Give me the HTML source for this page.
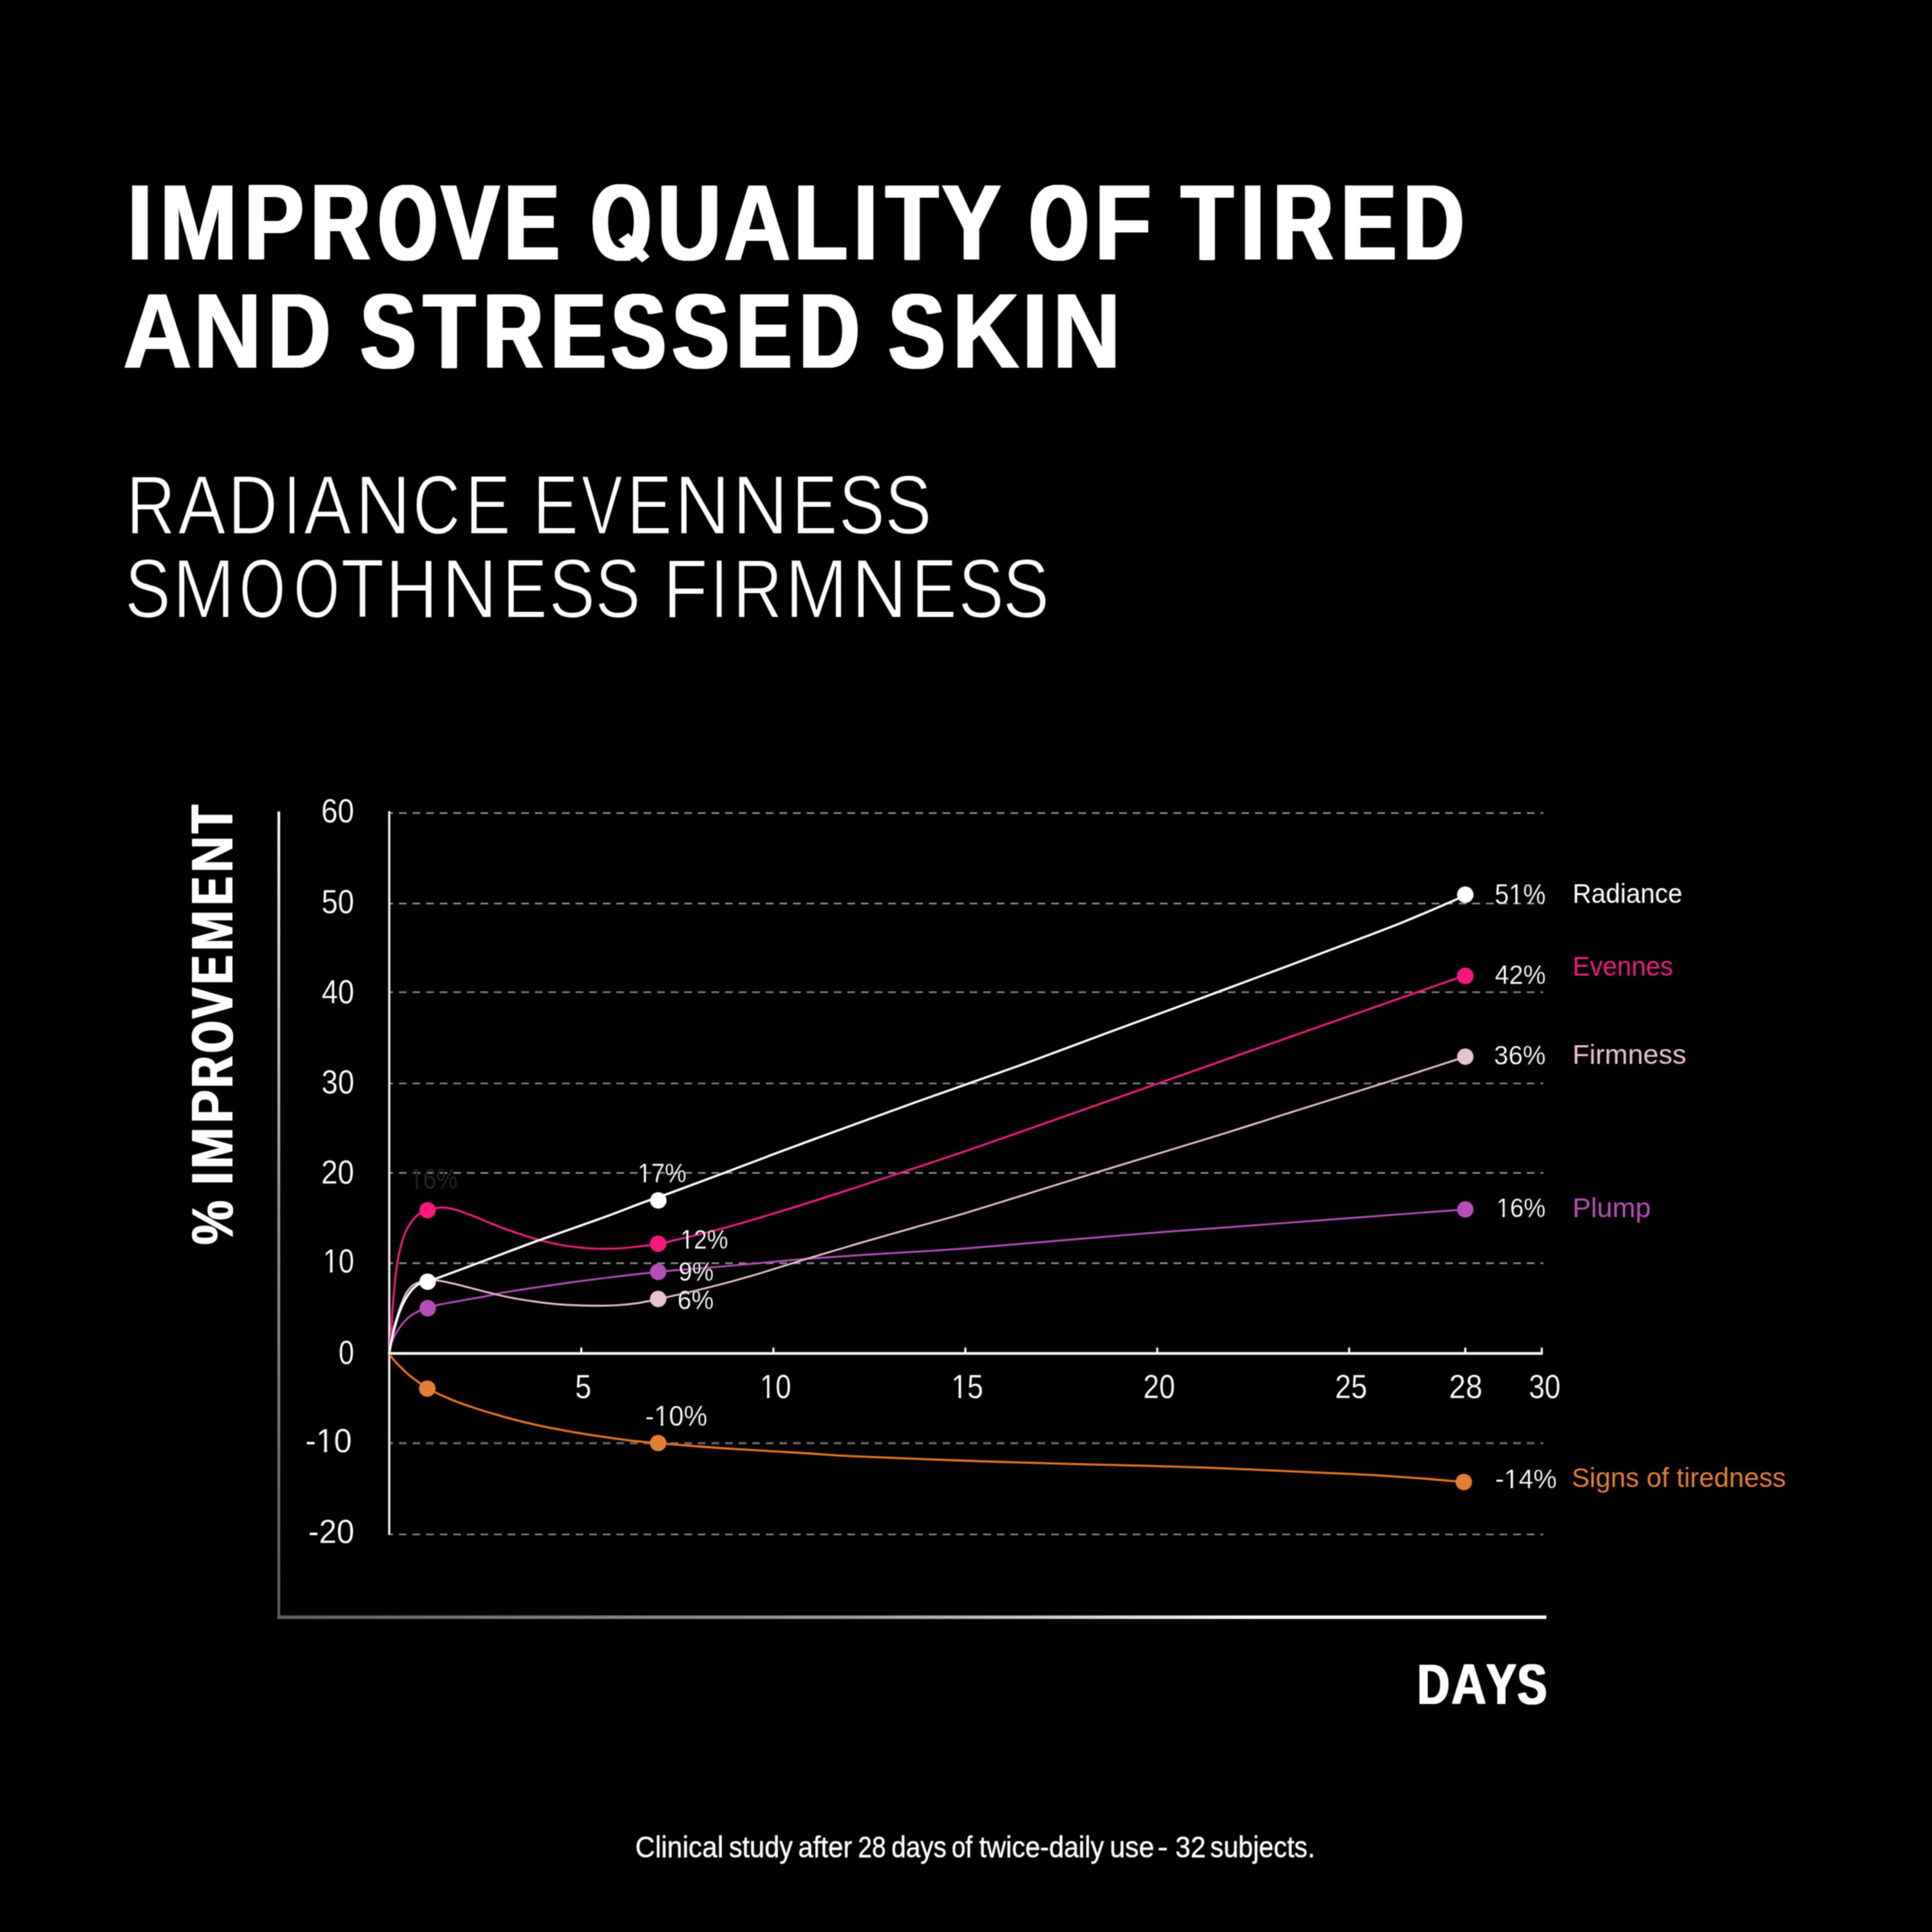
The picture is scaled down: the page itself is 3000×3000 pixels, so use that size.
<!DOCTYPE html>
<html lang="en">
<head>
<meta charset="utf-8">
<title>Improve quality of tired and stressed skin</title>
<style>
html,body{margin:0;padding:0;background:#000;}
body{width:3000px;height:3000px;overflow:hidden;}
svg{display:block;position:absolute;left:0;top:0;}
text{font-family:"Liberation Sans",sans-serif;white-space:pre;}
</style>
</head>
<body>
<svg width="3000" height="3000" viewBox="0 0 3000 3000">
<defs><filter id="soft" filterUnits="userSpaceOnUse" x="0" y="0" width="3000" height="3000" color-interpolation-filters="sRGB"><feConvolveMatrix order="3" kernelMatrix="1 2 1 2 4 2 1 2 1" divisor="16" edgeMode="none" preserveAlpha="false"/></filter>
<clipPath id="qclip"><rect x="900" y="250" width="130" height="154.7"/></clipPath><clipPath id="k0"><path clip-rule="evenodd" d="M-20,-61.2H76.7V20.4H-20ZM2.55,-5.10H12.67V2.55H2.55ZM17.48,-5.10H27.03V2.55H17.48Z"/></clipPath><clipPath id="k1"><path clip-rule="evenodd" d="M-20,-61.2H93.7V20.4H-20ZM19.53,-5.10H29.66V2.55H19.53ZM34.47,-5.10H44.02V2.55H34.47Z"/></clipPath><clipPath id="k2"><path clip-rule="evenodd" d="M-20,-61.2H76.7V20.4H-20ZM2.55,-5.10H12.67V2.55H2.55ZM17.48,-5.10H27.03V2.55H17.48Z"/></clipPath><clipPath id="k3"><path clip-rule="evenodd" d="M-20,-61.2H76.7V20.4H-20ZM2.55,-5.10H12.67V2.55H2.55ZM17.48,-5.10H27.03V2.55H17.48Z"/></clipPath><clipPath id="k4"><path clip-rule="evenodd" d="M-20,-52.4H107.5V17.5H-20ZM2.18,-4.37H10.86V2.18H2.18ZM14.98,-4.37H23.16V2.18H14.98Z"/></clipPath><clipPath id="k5"><path clip-rule="evenodd" d="M-20,-52.1H106.9V17.4H-20ZM2.17,-4.34H10.79V2.17H2.17ZM14.88,-4.34H23.01V2.17H14.88Z"/></clipPath><clipPath id="k6"><path clip-rule="evenodd" d="M-20,-52.1H106.9V17.4H-20ZM2.17,-4.34H10.79V2.17H2.17ZM14.88,-4.34H23.01V2.17H14.88Z"/></clipPath><clipPath id="k7"><path clip-rule="evenodd" d="M-20,-52.8H122.7V17.6H-20ZM16.85,-4.40H25.58V2.20H16.85ZM29.72,-4.40H37.96V2.20H29.72Z"/></clipPath><clipPath id="k8"><path clip-rule="evenodd" d="M-20,-52.4H107.5V17.5H-20ZM26.49,-4.37H35.16V2.18H26.49ZM39.28,-4.37H47.46V2.18H39.28Z"/></clipPath><clipPath id="k9"><path clip-rule="evenodd" d="M-20,-51.2H105.4V17.1H-20ZM2.13,-4.27H10.61V2.13H2.13ZM14.64,-4.27H22.63V2.13H14.64Z"/></clipPath><clipPath id="k10"><path clip-rule="evenodd" d="M-20,-51.4H120.0V17.1H-20ZM16.41,-4.28H24.91V2.14H16.41ZM28.95,-4.28H36.97V2.14H28.95Z"/></clipPath></defs>
<rect width="3000" height="3000" fill="#000"/>
<g filter="url(#soft)">
<defs><linearGradient id="gv" gradientUnits="userSpaceOnUse" x1="0" y1="1260" x2="0" y2="2511"><stop offset="0" stop-color="#f4f4f4"/><stop offset="0.5" stop-color="#949494"/><stop offset="1" stop-color="#5c5c5c"/></linearGradient><linearGradient id="gh" gradientUnits="userSpaceOnUse" x1="432" y1="0" x2="2401" y2="0"><stop offset="0" stop-color="#606060"/><stop offset="0.45" stop-color="#9a9a9a"/><stop offset="0.78" stop-color="#fff"/><stop offset="1" stop-color="#fff"/></linearGradient></defs>
<rect x="430.8" y="1260" width="4.3" height="1253.5" fill="url(#gv)"/>
<rect x="430.8" y="2508.5" width="1970.4" height="5.4" fill="url(#gh)"/>
<line x1="598.4" y1="1262.5" x2="2396.5" y2="1262.5" stroke="#949494" stroke-width="2.4" stroke-dasharray="11.9 9.2"/>
<line x1="598.4" y1="1403" x2="2396.5" y2="1403" stroke="#949494" stroke-width="2.4" stroke-dasharray="11.9 9.2"/>
<line x1="598.4" y1="1540.6" x2="2396.5" y2="1540.6" stroke="#949494" stroke-width="2.4" stroke-dasharray="11.9 9.2"/>
<line x1="598.4" y1="1682.4" x2="2396.5" y2="1682.4" stroke="#949494" stroke-width="2.4" stroke-dasharray="11.9 9.2"/>
<line x1="598.4" y1="1821.3" x2="2396.5" y2="1821.3" stroke="#949494" stroke-width="2.4" stroke-dasharray="11.9 9.2"/>
<line x1="598.4" y1="1961.5" x2="2396.5" y2="1961.5" stroke="#949494" stroke-width="2.4" stroke-dasharray="11.9 9.2"/>
<line x1="598.4" y1="2241" x2="2396.5" y2="2241" stroke="#666" stroke-width="3.3" stroke-dasharray="11.9 9.2"/>
<line x1="598.4" y1="2382.6" x2="2396.5" y2="2382.6" stroke="#949494" stroke-width="2.4" stroke-dasharray="11.9 9.2"/>
<rect x="590" y="1250" width="13" height="1150" fill="#000"/>
<rect x="602.7" y="1259.5" width="3.4" height="1123.5" fill="#f2f2f2"/>
<rect x="602.7" y="2099.5" width="1792.8999999999999" height="4.2" fill="#fff"/>
<rect x="901.0" y="2092.5" width="3.2" height="9" fill="#fff"/>
<rect x="1199.4" y="2092.5" width="3.2" height="9" fill="#fff"/>
<rect x="1497.4" y="2092.5" width="3.2" height="9" fill="#fff"/>
<rect x="1795.4" y="2092.5" width="3.2" height="9" fill="#fff"/>
<rect x="2093.4" y="2092.5" width="3.2" height="9" fill="#fff"/>
<rect x="2273.7" y="2092.5" width="3.2" height="9" fill="#fff"/>
<rect x="2392.4" y="2092.5" width="3.2" height="9" fill="#fff"/>
<g id="headings">
<g font-size="167.15" font-weight="700" fill="#fff"><text transform="translate(193.94,403.00) scale(1.0026,1)">I</text><text transform="translate(246.08,403.00) scale(0.8721,1)">M</text><text transform="translate(247.63,403.00) scale(0.8721,1)">M</text><text transform="translate(249.19,403.00) scale(0.8721,1)">M</text><text transform="translate(376.76,403.00) scale(0.8371,1)">P</text><text transform="translate(378.75,403.00) scale(0.8371,1)">P</text><text transform="translate(380.73,403.00) scale(0.8371,1)">P</text><text transform="translate(479.91,403.00) scale(0.7608,1)">R</text><text transform="translate(481.85,403.00) scale(0.7608,1)">R</text><text transform="translate(483.78,403.00) scale(0.7608,1)">R</text><text transform="translate(485.72,403.00) scale(0.7608,1)">R</text><text transform="translate(584.81,403.00) scale(0.6846,1)">O</text><text transform="translate(586.73,403.00) scale(0.6846,1)">O</text><text transform="translate(588.64,403.00) scale(0.6846,1)">O</text><text transform="translate(590.56,403.00) scale(0.6846,1)">O</text><text transform="translate(592.48,403.00) scale(0.6846,1)">O</text><text transform="translate(682.48,403.00) scale(0.8158,1)">V</text><text transform="translate(684.72,403.00) scale(0.8158,1)">V</text><text transform="translate(686.96,403.00) scale(0.8158,1)">V</text><text transform="translate(780.59,403.00) scale(0.7624,1)">E</text><text transform="translate(782.51,403.00) scale(0.7624,1)">E</text><text transform="translate(784.44,403.00) scale(0.7624,1)">E</text><text transform="translate(786.37,403.00) scale(0.7624,1)">E</text><g clip-path="url(#qclip)"><text transform="translate(915.20,403.00) scale(0.7009,1)">Q</text><text transform="translate(917.62,403.00) scale(0.7009,1)">Q</text><text transform="translate(920.05,403.00) scale(0.7009,1)">Q</text><text transform="translate(922.47,403.00) scale(0.7009,1)">Q</text></g><text transform="translate(1018.67,403.00) scale(0.8201,1)">U</text><text transform="translate(1020.86,403.00) scale(0.8201,1)">U</text><text transform="translate(1023.05,403.00) scale(0.8201,1)">U</text><text transform="translate(1122.25,403.00) scale(0.8599,1)">A</text><text transform="translate(1123.95,403.00) scale(0.8599,1)">A</text><text transform="translate(1125.66,403.00) scale(0.8599,1)">A</text><text transform="translate(1230.48,403.00) scale(0.8173,1)">L</text><text transform="translate(1232.70,403.00) scale(0.8173,1)">L</text><text transform="translate(1234.93,403.00) scale(0.8173,1)">L</text><text transform="translate(1321.57,403.00) scale(0.9820,1)">I</text><text transform="translate(1372.93,403.00) scale(0.7992,1)">T</text><text transform="translate(1375.37,403.00) scale(0.7992,1)">T</text><text transform="translate(1377.81,403.00) scale(0.7992,1)">T</text><text transform="translate(1460.04,403.00) scale(0.8301,1)">Y</text><text transform="translate(1462.11,403.00) scale(0.8301,1)">Y</text><text transform="translate(1464.17,403.00) scale(0.8301,1)">Y</text><text transform="translate(1595.79,403.00) scale(0.6868,1)">O</text><text transform="translate(1597.70,403.00) scale(0.6868,1)">O</text><text transform="translate(1599.60,403.00) scale(0.6868,1)">O</text><text transform="translate(1601.51,403.00) scale(0.6868,1)">O</text><text transform="translate(1603.41,403.00) scale(0.6868,1)">O</text><text transform="translate(1697.66,403.00) scale(0.8736,1)">F</text><text transform="translate(1699.20,403.00) scale(0.8736,1)">F</text><text transform="translate(1700.74,403.00) scale(0.8736,1)">F</text><text transform="translate(1831.44,403.00) scale(0.7925,1)">T</text><text transform="translate(1833.13,403.00) scale(0.7925,1)">T</text><text transform="translate(1834.81,403.00) scale(0.7925,1)">T</text><text transform="translate(1836.49,403.00) scale(0.7925,1)">T</text><text transform="translate(1921.88,403.00) scale(0.9985,1)">I</text><text transform="translate(1974.40,403.00) scale(0.7706,1)">R</text><text transform="translate(1976.26,403.00) scale(0.7706,1)">R</text><text transform="translate(1978.12,403.00) scale(0.7706,1)">R</text><text transform="translate(1979.98,403.00) scale(0.7706,1)">R</text><text transform="translate(2079.99,403.00) scale(0.7624,1)">E</text><text transform="translate(2081.91,403.00) scale(0.7624,1)">E</text><text transform="translate(2083.84,403.00) scale(0.7624,1)">E</text><text transform="translate(2085.77,403.00) scale(0.7624,1)">E</text><text transform="translate(2176.71,403.00) scale(0.7783,1)">D</text><text transform="translate(2178.51,403.00) scale(0.7783,1)">D</text><text transform="translate(2180.31,403.00) scale(0.7783,1)">D</text><text transform="translate(2182.11,403.00) scale(0.7783,1)">D</text></g>
<polygon points="975.5,361.7 1008.8,398.6 996.9,407.6 960,372.4" fill="#fff"/>
<g font-size="165.84" font-weight="700" fill="#fff"><text transform="translate(189.53,570.50) scale(0.8964,1)">A</text><text transform="translate(190.78,570.50) scale(0.8964,1)">A</text><text transform="translate(192.03,570.50) scale(0.8964,1)">A</text><text transform="translate(298.90,570.50) scale(0.8860,1)">N</text><text transform="translate(300.28,570.50) scale(0.8860,1)">N</text><text transform="translate(301.65,570.50) scale(0.8860,1)">N</text><text transform="translate(414.08,570.50) scale(0.8062,1)">D</text><text transform="translate(416.41,570.50) scale(0.8062,1)">D</text><text transform="translate(418.75,570.50) scale(0.8062,1)">D</text><text transform="translate(556.89,570.50) scale(0.7784,1)">S</text><text transform="translate(558.67,570.50) scale(0.7784,1)">S</text><text transform="translate(560.45,570.50) scale(0.7784,1)">S</text><text transform="translate(562.23,570.50) scale(0.7784,1)">S</text><text transform="translate(654.95,570.50) scale(0.7932,1)">T</text><text transform="translate(657.45,570.50) scale(0.7932,1)">T</text><text transform="translate(659.94,570.50) scale(0.7932,1)">T</text><text transform="translate(747.95,570.50) scale(0.7716,1)">R</text><text transform="translate(749.79,570.50) scale(0.7716,1)">R</text><text transform="translate(751.63,570.50) scale(0.7716,1)">R</text><text transform="translate(753.46,570.50) scale(0.7716,1)">R</text><text transform="translate(852.76,570.50) scale(0.7712,1)">E</text><text transform="translate(854.60,570.50) scale(0.7712,1)">E</text><text transform="translate(856.44,570.50) scale(0.7712,1)">E</text><text transform="translate(858.28,570.50) scale(0.7712,1)">E</text><text transform="translate(946.24,570.50) scale(0.7664,1)">S</text><text transform="translate(948.12,570.50) scale(0.7664,1)">S</text><text transform="translate(950.00,570.50) scale(0.7664,1)">S</text><text transform="translate(951.88,570.50) scale(0.7664,1)">S</text><text transform="translate(1041.08,570.50) scale(0.8009,1)">S</text><text transform="translate(1043.48,570.50) scale(0.8009,1)">S</text><text transform="translate(1045.88,570.50) scale(0.8009,1)">S</text><text transform="translate(1141.06,570.50) scale(0.7712,1)">E</text><text transform="translate(1142.90,570.50) scale(0.7712,1)">E</text><text transform="translate(1144.74,570.50) scale(0.7712,1)">E</text><text transform="translate(1146.58,570.50) scale(0.7712,1)">E</text><text transform="translate(1238.56,570.50) scale(0.7805,1)">D</text><text transform="translate(1240.32,570.50) scale(0.7805,1)">D</text><text transform="translate(1242.09,570.50) scale(0.7805,1)">D</text><text transform="translate(1243.85,570.50) scale(0.7805,1)">D</text><text transform="translate(1376.90,570.50) scale(0.7969,1)">S</text><text transform="translate(1379.35,570.50) scale(0.7969,1)">S</text><text transform="translate(1381.80,570.50) scale(0.7969,1)">S</text><text transform="translate(1477.19,570.50) scale(0.8689,1)">K</text><text transform="translate(1478.77,570.50) scale(0.8689,1)">K</text><text transform="translate(1480.35,570.50) scale(0.8689,1)">K</text><text transform="translate(1584.17,570.50) scale(0.9897,1)">I</text><text transform="translate(1632.90,570.50) scale(0.8860,1)">N</text><text transform="translate(1634.28,570.50) scale(0.8860,1)">N</text><text transform="translate(1635.65,570.50) scale(0.8860,1)">N</text></g>
<g font-size="130.09" font-weight="400" fill="#fff" stroke="#000" stroke-width="2.00" stroke-linejoin="round"><text transform="translate(196.26,828.90) scale(0.8101,1)">R</text><text transform="translate(276.28,828.90) scale(0.8545,1)">A</text><text transform="translate(353.95,828.90) scale(0.8206,1)">D</text><text transform="translate(440.59,828.90) scale(0.7115,1)">I</text><text transform="translate(471.78,828.90) scale(0.8499,1)">A</text><text transform="translate(551.60,828.90) scale(0.9186,1)">N</text><text transform="translate(641.10,828.90) scale(0.7845,1)">C</text><text transform="translate(722.46,828.90) scale(0.8098,1)">E</text><text transform="translate(827.30,828.90) scale(0.8154,1)">E</text><text transform="translate(903.12,828.90) scale(0.7337,1)">V</text><text transform="translate(973.39,828.90) scale(0.8069,1)">E</text><text transform="translate(1047.19,828.90) scale(0.9200,1)">N</text><text transform="translate(1137.36,828.90) scale(0.9227,1)">N</text><text transform="translate(1229.39,828.90) scale(0.8168,1)">E</text><text transform="translate(1302.16,828.90) scale(0.8273,1)">S</text><text transform="translate(1374.09,828.90) scale(0.8380,1)">S</text></g>
<g font-size="129.94" font-weight="400" fill="#fff" stroke="#000" stroke-width="2.00" stroke-linejoin="round"><text transform="translate(193.91,958.90) scale(0.8189,1)">S</text><text transform="translate(267.98,958.90) scale(0.8938,1)">M</text><text transform="translate(371.46,958.90) scale(0.7110,1)">O</text><text transform="translate(455.99,958.90) scale(0.7053,1)">O</text><text transform="translate(529.17,958.90) scale(0.8484,1)">T</text><text transform="translate(598.46,958.90) scale(0.8673,1)">H</text><text transform="translate(685.76,958.90) scale(0.9238,1)">N</text><text transform="translate(780.25,958.90) scale(0.8022,1)">E</text><text transform="translate(852.26,958.90) scale(0.8283,1)">S</text><text transform="translate(924.35,958.90) scale(0.8123,1)">S</text><text transform="translate(1029.46,958.90) scale(0.8766,1)">F</text><text transform="translate(1103.59,958.90) scale(0.7368,1)">I</text><text transform="translate(1137.95,958.90) scale(0.8214,1)">R</text><text transform="translate(1219.10,958.90) scale(0.9007,1)">M</text><text transform="translate(1321.96,958.90) scale(0.9238,1)">N</text><text transform="translate(1415.13,958.90) scale(0.8135,1)">E</text><text transform="translate(1488.14,958.90) scale(0.8136,1)">S</text><text transform="translate(1557.35,958.90) scale(0.8296,1)">S</text></g>
<g font-size="90.99" font-weight="700" fill="#fff" transform="translate(361,1932) rotate(-90)"><text transform="translate(-1.86,0.00) scale(0.8536,1)">%</text><text transform="translate(0.07,0.00) scale(0.8536,1)">%</text><text transform="translate(90.08,0.00) scale(0.9853,1)">I</text><text transform="translate(116.00,0.00) scale(0.8500,1)">M</text><text transform="translate(117.98,0.00) scale(0.8500,1)">M</text><text transform="translate(186.75,0.00) scale(0.8568,1)">P</text><text transform="translate(188.65,0.00) scale(0.8568,1)">P</text><text transform="translate(241.82,0.00) scale(0.7296,1)">R</text><text transform="translate(243.61,0.00) scale(0.7296,1)">R</text><text transform="translate(245.40,0.00) scale(0.7296,1)">R</text><text transform="translate(295.88,0.00) scale(0.6752,1)">O</text><text transform="translate(298.03,0.00) scale(0.6752,1)">O</text><text transform="translate(300.18,0.00) scale(0.6752,1)">O</text><text transform="translate(349.58,0.00) scale(0.7671,1)">V</text><text transform="translate(351.12,0.00) scale(0.7671,1)">V</text><text transform="translate(352.66,0.00) scale(0.7671,1)">V</text><text transform="translate(402.48,0.00) scale(0.7194,1)">E</text><text transform="translate(404.34,0.00) scale(0.7194,1)">E</text><text transform="translate(406.20,0.00) scale(0.7194,1)">E</text><text transform="translate(453.94,0.00) scale(0.8421,1)">M</text><text transform="translate(456.03,0.00) scale(0.8421,1)">M</text><text transform="translate(525.51,0.00) scale(0.6982,1)">E</text><text transform="translate(527.50,0.00) scale(0.6982,1)">E</text><text transform="translate(529.50,0.00) scale(0.6982,1)">E</text><text transform="translate(576.07,0.00) scale(0.8713,1)">N</text><text transform="translate(577.77,0.00) scale(0.8713,1)">N</text><text transform="translate(637.01,0.00) scale(0.7853,1)">T</text><text transform="translate(638.44,0.00) scale(0.7853,1)">T</text><text transform="translate(639.86,0.00) scale(0.7853,1)">T</text></g>
<g font-size="89.83" font-weight="700" fill="#fff"><text transform="translate(2199.56,2646.00) scale(0.7666,1)">D</text><text transform="translate(2201.08,2646.00) scale(0.7666,1)">D</text><text transform="translate(2202.61,2646.00) scale(0.7666,1)">D</text><text transform="translate(2252.39,2646.00) scale(0.8401,1)">A</text><text transform="translate(2254.48,2646.00) scale(0.8401,1)">A</text><text transform="translate(2306.51,2646.00) scale(0.7824,1)">Y</text><text transform="translate(2307.93,2646.00) scale(0.7824,1)">Y</text><text transform="translate(2309.35,2646.00) scale(0.7824,1)">Y</text><text transform="translate(2354.80,2646.00) scale(0.7552,1)">S</text><text transform="translate(2356.40,2646.00) scale(0.7552,1)">S</text><text transform="translate(2358.00,2646.00) scale(0.7552,1)">S</text></g>
<text transform="translate(498.69,1277.00) scale(0.9057,1)" font-size="51.00" font-weight="400" fill="#fff" stroke="#000" stroke-width="0.30" stroke-linejoin="round">60</text>
<text transform="translate(499.17,1417.50) scale(0.8969,1)" font-size="51.00" font-weight="400" fill="#fff" stroke="#000" stroke-width="0.30" stroke-linejoin="round">50</text>
<text transform="translate(499.50,1558.00) scale(0.8909,1)" font-size="51.00" font-weight="400" fill="#fff" stroke="#000" stroke-width="0.30" stroke-linejoin="round">40</text>
<text transform="translate(499.27,1698.00) scale(0.8952,1)" font-size="51.00" font-weight="400" fill="#fff" stroke="#000" stroke-width="0.30" stroke-linejoin="round">30</text>
<text transform="translate(498.69,1838.00) scale(0.9057,1)" font-size="51.00" font-weight="400" fill="#fff" stroke="#000" stroke-width="0.30" stroke-linejoin="round">20</text>
<text transform="translate(501.49,1975.50) scale(0.8546,1)" font-size="51.00" font-weight="400" fill="#fff" stroke="#000" stroke-width="0.30" stroke-linejoin="round" clip-path="url(#k0)">10</text>
<text transform="translate(525.81,2118.00) scale(0.8514,1)" font-size="51.00" font-weight="400" fill="#fff" stroke="#000" stroke-width="0.30" stroke-linejoin="round">0</text>
<text transform="translate(474.00,2254.50) scale(0.9825,1)" font-size="51.00" font-weight="400" fill="#fff" stroke="#000" stroke-width="0.30" stroke-linejoin="round" clip-path="url(#k1)">-10</text>
<text transform="translate(478.72,2395.50) scale(0.9695,1)" font-size="51.00" font-weight="400" fill="#fff" stroke="#000" stroke-width="0.30" stroke-linejoin="round">-20</text>
<text transform="translate(892.88,2170.90) scale(0.8916,1)" font-size="51.00" font-weight="400" fill="#fff" stroke="#000" stroke-width="0.30" stroke-linejoin="round">5</text>
<text transform="translate(1179.99,2170.90) scale(0.8546,1)" font-size="51.00" font-weight="400" fill="#fff" stroke="#000" stroke-width="0.30" stroke-linejoin="round" clip-path="url(#k2)">10</text>
<text transform="translate(1477.21,2170.90) scale(0.8749,1)" font-size="51.00" font-weight="400" fill="#fff" stroke="#000" stroke-width="0.30" stroke-linejoin="round" clip-path="url(#k3)">15</text>
<text transform="translate(1775.28,2170.90) scale(0.8712,1)" font-size="51.00" font-weight="400" fill="#fff" stroke="#000" stroke-width="0.30" stroke-linejoin="round">20</text>
<text transform="translate(2073.05,2170.90) scale(0.8814,1)" font-size="51.00" font-weight="400" fill="#fff" stroke="#000" stroke-width="0.30" stroke-linejoin="round">25</text>
<text transform="translate(2249.96,2170.90) scale(0.9178,1)" font-size="51.00" font-weight="400" fill="#fff" stroke="#000" stroke-width="0.30" stroke-linejoin="round">28</text>
<text transform="translate(2373.92,2170.90) scale(0.8687,1)" font-size="51.00" font-weight="400" fill="#fff" stroke="#000" stroke-width="0.30" stroke-linejoin="round">30</text>
</g>
<g id="lines">
<path d="M604.6,2101.7 C605.0,2102.4 605.3,2103.8 607.1,2106.2 C608.9,2108.6 612.8,2113.3 615.6,2116.4 C618.5,2119.5 621.1,2122.0 624.2,2125.0 C627.3,2128.0 631.0,2131.5 634.4,2134.4 C637.8,2137.3 641.3,2139.9 644.7,2142.4 C648.1,2144.9 651.8,2147.4 654.9,2149.7 C658.0,2152.0 659.1,2153.7 663.5,2156.2 C667.9,2158.7 674.2,2161.4 681.0,2164.5 C687.8,2167.6 695.2,2171.0 704.2,2174.6 C713.2,2178.2 724.9,2182.3 735.3,2185.8 C745.6,2189.3 755.9,2192.4 766.3,2195.4 C776.6,2198.4 787.0,2201.4 797.4,2204.1 C807.8,2206.8 818.0,2209.3 828.4,2211.6 C838.8,2213.9 849.1,2216.1 859.5,2218.1 C869.9,2220.1 880.2,2222.0 890.6,2223.8 C901.0,2225.6 911.2,2227.2 921.6,2228.8 C932.0,2230.4 942.4,2231.9 952.7,2233.3 C963.1,2234.7 972.2,2236.1 983.7,2237.3 C995.2,2238.6 1006.5,2239.5 1022.0,2240.8 C1037.5,2242.2 1057.4,2243.9 1076.9,2245.4 C1096.4,2246.9 1110.2,2248.0 1139.0,2249.8 C1167.8,2251.7 1218.4,2254.6 1250.0,2256.5 C1281.6,2258.4 1285.8,2259.3 1328.6,2261.3 C1371.4,2263.3 1447.6,2266.4 1507.1,2268.5 C1566.6,2270.6 1626.2,2272.1 1685.7,2273.8 C1745.2,2275.5 1804.8,2276.5 1864.3,2278.6 C1923.8,2280.7 1993.3,2284.0 2042.9,2286.3 C2092.5,2288.6 2123.6,2289.8 2161.9,2292.3 C2200.2,2294.8 2254.5,2299.7 2273.0,2301.2" fill="none" stroke="#e8741f" stroke-width="3.3" stroke-linecap="round" stroke-linejoin="round"/>
<path d="M604.6,2101.7 C605.0,2099.6 605.8,2093.5 607.1,2089.1 C608.4,2084.7 610.2,2079.8 612.2,2075.5 C614.2,2071.2 616.4,2067.3 619.0,2063.5 C621.6,2059.7 624.5,2055.8 627.6,2052.4 C630.7,2049.0 634.1,2045.7 637.8,2043.0 C641.5,2040.3 645.4,2038.1 649.8,2036.2 C654.2,2034.3 659.4,2033.0 664.2,2031.4 C669.0,2029.8 671.2,2028.3 678.8,2026.5 C686.4,2024.7 698.8,2022.8 709.6,2020.8 C720.4,2018.8 733.8,2016.6 743.7,2014.8 C753.7,2013.0 761.6,2011.2 769.3,2009.7 C777.0,2008.2 768.2,2009.0 790.0,2005.6 C811.8,2002.2 861.3,1994.6 900.0,1989.5 C938.7,1984.4 984.8,1978.8 1022.0,1975.0 C1059.2,1971.2 1092.7,1969.1 1123.5,1966.4 C1154.3,1963.7 1184.5,1960.8 1207.0,1958.8 C1229.5,1956.8 1238.2,1955.9 1258.8,1954.3 C1279.4,1952.7 1303.7,1951.0 1330.6,1949.3 C1357.5,1947.5 1391.8,1945.6 1420.0,1943.8 C1448.2,1942.0 1453.3,1942.2 1500.0,1938.5 C1546.7,1934.8 1650.0,1926.0 1700.0,1921.8 C1750.0,1917.6 1766.7,1916.1 1800.0,1913.5 C1833.3,1910.9 1820.8,1912.1 1900.0,1906.2 C1979.2,1900.3 2212.8,1882.7 2275.3,1878.0" fill="none" stroke="#b44fb6" stroke-width="2.9" stroke-linecap="round" stroke-linejoin="round"/>
<path d="M604.6,2101.7 C604.9,2098.9 605.6,2090.9 606.6,2085.0 C607.6,2079.1 608.9,2072.7 610.5,2066.0 C612.1,2059.3 614.3,2052.0 616.5,2045.0 C618.7,2038.0 621.1,2030.2 623.5,2024.0 C625.9,2017.8 628.2,2012.2 631.0,2007.5 C633.8,2002.8 637.3,1998.7 640.5,1996.0 C643.7,1993.3 646.1,1992.4 650.0,1991.3 C653.9,1990.2 659.2,1989.9 664.0,1989.4 C668.8,1988.9 671.2,1987.4 678.8,1988.2 C686.4,1989.0 698.8,1992.0 709.6,1994.5 C720.4,1997.0 733.8,2000.9 743.7,2003.4 C753.7,2005.9 761.6,2007.8 769.3,2009.6 C777.0,2011.4 779.9,2012.4 790.0,2014.3 C800.1,2016.2 816.7,2019.1 830.0,2021.0 C843.3,2022.9 854.7,2024.4 870.0,2025.5 C885.3,2026.6 906.8,2027.3 921.8,2027.5 C936.8,2027.7 948.6,2027.3 960.0,2026.6 C971.4,2025.9 979.5,2025.1 990.0,2023.5 C1000.5,2021.9 1008.4,2020.2 1023.0,2017.0 C1037.6,2013.8 1059.9,2008.8 1077.6,2004.6 C1095.3,2000.4 1112.1,1996.2 1129.4,1991.6 C1146.7,1987.0 1164.0,1982.0 1181.2,1976.9 C1198.5,1971.8 1220.0,1964.8 1232.9,1960.8 C1245.8,1956.8 1242.5,1957.8 1258.8,1952.9 C1275.1,1948.0 1303.7,1939.3 1330.6,1931.5 C1357.5,1923.7 1391.8,1914.0 1420.0,1906.0 C1448.2,1898.0 1470.0,1892.2 1500.0,1883.3 C1530.0,1874.4 1566.7,1862.7 1600.0,1852.4 C1633.3,1842.1 1650.0,1836.7 1700.0,1821.3 C1750.0,1805.9 1850.0,1775.8 1900.0,1760.3 C1950.0,1744.8 1960.0,1741.2 2000.0,1728.6 C2040.0,1716.0 2094.1,1699.2 2140.0,1684.6 C2185.9,1670.0 2252.8,1648.3 2275.3,1641.0" fill="none" stroke="#e9c3cb" stroke-width="2.9" stroke-linecap="round" stroke-linejoin="round"/>
<path d="M604.6,2101.7 C605.0,2096.8 606.1,2085.5 607.1,2072.0 C608.1,2058.5 609.1,2037.9 610.5,2020.8 C611.9,2003.7 613.9,1982.7 615.6,1969.6 C617.3,1956.5 618.7,1950.8 620.7,1942.2 C622.7,1933.7 625.0,1925.1 627.6,1918.3 C630.2,1911.5 633.0,1906.2 636.1,1901.2 C639.2,1896.2 643.3,1891.5 646.4,1888.4 C649.5,1885.3 652.0,1884.0 654.9,1882.5 C657.8,1881.0 660.0,1880.3 664.0,1879.2 C668.0,1878.1 674.0,1876.5 678.8,1875.8 C683.5,1875.1 687.4,1874.8 692.5,1875.3 C697.6,1875.8 703.9,1877.4 709.6,1879.0 C715.3,1880.6 720.9,1882.9 726.6,1885.0 C732.3,1887.1 738.0,1889.5 743.7,1891.8 C749.4,1894.1 753.5,1896.0 760.8,1899.0 C768.1,1902.0 778.6,1906.2 787.7,1909.5 C796.8,1912.8 807.7,1916.3 815.6,1918.9 C823.5,1921.5 825.7,1922.6 835.0,1925.0 C844.3,1927.4 860.8,1931.2 871.5,1933.2 C882.2,1935.2 890.2,1936.1 899.5,1937.1 C908.8,1938.1 918.1,1938.7 927.4,1939.0 C936.7,1939.3 946.1,1939.1 955.4,1938.7 C964.7,1938.3 972.2,1937.7 983.3,1936.5 C994.4,1935.3 1013.5,1932.6 1022.0,1931.3 C1030.5,1930.0 1017.6,1933.0 1034.5,1928.9 C1051.4,1924.9 1091.4,1915.7 1123.5,1907.0 C1155.6,1898.3 1192.5,1887.1 1227.0,1876.5 C1261.5,1865.9 1298.4,1853.9 1330.6,1843.5 C1362.8,1833.1 1391.8,1823.4 1420.0,1814.0 C1448.2,1804.6 1470.0,1797.5 1500.0,1787.2 C1530.0,1776.9 1516.7,1781.5 1600.0,1752.2 C1683.3,1722.9 1910.0,1643.0 2000.0,1611.3 C2090.0,1579.6 2094.1,1578.1 2140.0,1562.0 C2185.9,1545.9 2252.8,1522.5 2275.3,1514.6" fill="none" stroke="#ec1d7d" stroke-width="3.2" stroke-linecap="round" stroke-linejoin="round"/>
<path d="M604.6,2101.7 C605.0,2099.0 605.8,2092.1 607.1,2085.7 C608.4,2079.3 610.2,2070.9 612.2,2063.5 C614.2,2056.1 616.7,2047.8 619.0,2041.3 C621.3,2034.8 623.3,2029.5 625.9,2024.2 C628.5,2018.9 631.6,2013.8 634.4,2009.7 C637.2,2005.6 640.0,2002.1 642.9,1999.4 C645.8,1996.7 648.0,1995.0 651.5,1993.5 C655.0,1992.0 661.9,1990.8 664.0,1990.2 L664.0,1990.2 C678.3,1984.9 721.5,1969.0 750.0,1958.4 C778.5,1947.8 805.6,1937.2 835.2,1926.5 C864.8,1915.8 899.6,1904.1 927.4,1894.0 C955.2,1883.9 982.9,1873.0 1002.0,1866.0 C1021.1,1859.0 1021.8,1859.4 1042.0,1852.0 C1062.2,1844.6 1092.7,1833.2 1123.5,1821.6 C1154.3,1810.0 1192.5,1795.4 1227.0,1782.6 C1261.5,1769.8 1298.4,1756.3 1330.6,1744.6 C1362.8,1732.9 1391.2,1722.5 1420.0,1712.2 C1448.8,1701.9 1473.5,1693.2 1503.5,1682.6 C1533.5,1672.0 1565.5,1661.0 1600.0,1648.4 C1634.5,1635.8 1668.9,1622.7 1710.6,1607.2 C1752.3,1591.7 1801.8,1573.5 1850.0,1555.6 C1898.2,1537.7 1960.0,1514.9 2000.0,1499.9 C2040.0,1484.9 2060.0,1477.2 2090.0,1465.8 C2120.0,1454.4 2149.1,1443.8 2180.0,1431.3 C2210.9,1418.8 2259.4,1397.4 2275.3,1390.6" fill="none" stroke="#fff" stroke-width="3.5" stroke-linecap="round" stroke-linejoin="round"/>
</g>
<g id="dots">
<circle cx="663.5" cy="2156.2" r="12.8" fill="#e57f35"/>
<circle cx="1022.0" cy="2240.8" r="12.8" fill="#e57f35"/>
<circle cx="2273.0" cy="2301.2" r="12.8" fill="#e57f35"/>
<circle cx="664.2" cy="2031.4" r="12.8" fill="#b44fb6"/>
<circle cx="1022.0" cy="1975.0" r="12.8" fill="#b44fb6"/>
<circle cx="2275.3" cy="1878.0" r="12.8" fill="#b44fb6"/>
<circle cx="1022.0" cy="2017.0" r="12.8" fill="#e9c3cb"/>
<circle cx="2275.3" cy="1640.7" r="12.8" fill="#e9c3cb"/>
<circle cx="664.0" cy="1879.2" r="12.8" fill="#fa187f"/>
<circle cx="1022.0" cy="1931.2" r="12.8" fill="#fa187f"/>
<circle cx="2275.3" cy="1515.4" r="12.8" fill="#fa187f"/>
<circle cx="664.0" cy="1990.2" r="12.8" fill="#fff"/>
<circle cx="1022.2" cy="1864.0" r="12.8" fill="#fff"/>
<circle cx="2275.3" cy="1389.3" r="12.8" fill="#fff"/>
</g>
<g id="labels">
<text transform="translate(636.17,1845.50) scale(0.8524,1)" font-size="43.70" font-weight="400" fill="#262626" stroke="#000" stroke-width="0.30" stroke-linejoin="round" clip-path="url(#k4)">16%</text>
<text transform="translate(990.13,1836.00) scale(0.8703,1)" font-size="43.41" font-weight="400" fill="#fff" stroke="#000" stroke-width="0.30" stroke-linejoin="round" clip-path="url(#k5)">17%</text>
<text transform="translate(1056.59,1939.00) scale(0.8532,1)" font-size="43.41" font-weight="400" fill="#fff" stroke="#000" stroke-width="0.30" stroke-linejoin="round" clip-path="url(#k6)">12%</text>
<text transform="translate(1053.76,1988.50) scale(0.8785,1)" font-size="42.98" font-weight="400" fill="#fff" stroke="#000" stroke-width="0.30" stroke-linejoin="round">9%</text>
<text transform="translate(1052.05,2033.20) scale(0.9128,1)" font-size="42.69" font-weight="400" fill="#fff" stroke="#000" stroke-width="0.30" stroke-linejoin="round">6%</text>
<text transform="translate(1002.08,2214.00) scale(0.9387,1)" font-size="43.98" font-weight="400" fill="#fff" stroke="#000" stroke-width="0.30" stroke-linejoin="round" clip-path="url(#k7)">-10%</text>
<text transform="translate(2321.01,1403.80) scale(0.9078,1)" font-size="43.70" font-weight="400" fill="#fff" stroke="#000" stroke-width="0.30" stroke-linejoin="round" clip-path="url(#k8)">51%</text>
<text transform="translate(2321.13,1528.00) scale(0.9309,1)" font-size="42.55" font-weight="400" fill="#fff" stroke="#000" stroke-width="0.30" stroke-linejoin="round">42%</text>
<text transform="translate(2319.87,1653.00) scale(0.9333,1)" font-size="43.12" font-weight="400" fill="#fff" stroke="#000" stroke-width="0.30" stroke-linejoin="round">36%</text>
<text transform="translate(2323.49,1890.40) scale(0.8973,1)" font-size="42.69" font-weight="400" fill="#fff" stroke="#000" stroke-width="0.30" stroke-linejoin="round" clip-path="url(#k9)">16%</text>
<text transform="translate(2321.69,2311.30) scale(0.9597,1)" font-size="42.84" font-weight="400" fill="#fff" stroke="#000" stroke-width="0.30" stroke-linejoin="round" clip-path="url(#k10)">-14%</text>
<text transform="translate(2441.89,1402.40) scale(0.9322,1)" font-size="43.31" font-weight="400" fill="#fff">Radiance</text>
<text transform="translate(2441.91,1515.00) scale(0.9426,1)" font-size="42.59" font-weight="400" fill="#ec1d7d">Evennes</text>
<text transform="translate(2441.67,1652.40) scale(1.0029,1)" font-size="42.88" font-weight="400" fill="#e9c3cb">Firmness</text>
<text transform="translate(2441.68,1889.60) scale(1.0195,1)" font-size="42.15" font-weight="400" fill="#b44fb6">Plump</text>
<text transform="translate(2440.41,2309.30) scale(0.9770,1)" font-size="42.88" font-weight="400" fill="#e57f35">Signs of tiredness</text>
<text transform="translate(986.48,2883.70) scale(0.9077,1)" font-size="46.80" font-weight="400" fill="#fff" stroke="#fff" stroke-width="0.50" stroke-linejoin="round">Clinical</text>
<text transform="translate(1131.88,2883.70) scale(0.8851,1)" font-size="46.80" font-weight="400" fill="#fff" stroke="#fff" stroke-width="0.50" stroke-linejoin="round">study</text>
<text transform="translate(1239.23,2883.70) scale(0.8984,1)" font-size="46.80" font-weight="400" fill="#fff" stroke="#fff" stroke-width="0.50" stroke-linejoin="round">after</text>
<text transform="translate(1332.25,2883.70) scale(0.8345,1)" font-size="46.80" font-weight="400" fill="#fff" stroke="#fff" stroke-width="0.50" stroke-linejoin="round">28</text>
<text transform="translate(1384.30,2883.70) scale(0.8656,1)" font-size="46.80" font-weight="400" fill="#fff" stroke="#fff" stroke-width="0.50" stroke-linejoin="round">days</text>
<text transform="translate(1477.68,2883.70) scale(0.8261,1)" font-size="46.80" font-weight="400" fill="#fff" stroke="#fff" stroke-width="0.50" stroke-linejoin="round">of</text>
<text transform="translate(1520.38,2883.70) scale(0.8880,1)" font-size="46.80" font-weight="400" fill="#fff" stroke="#fff" stroke-width="0.50" stroke-linejoin="round">twice-daily</text>
<text transform="translate(1723.26,2883.70) scale(0.9149,1)" font-size="46.80" font-weight="400" fill="#fff" stroke="#fff" stroke-width="0.50" stroke-linejoin="round">use</text>
<text transform="translate(1797.58,2883.70) scale(1.0291,1)" font-size="46.80" font-weight="400" fill="#fff" stroke="#fff" stroke-width="0.50" stroke-linejoin="round">-</text>
<text transform="translate(1825.09,2883.70) scale(0.9077,1)" font-size="46.80" font-weight="400" fill="#fff" stroke="#fff" stroke-width="0.50" stroke-linejoin="round">32</text>
<text transform="translate(1879.29,2883.70) scale(0.8808,1)" font-size="46.80" font-weight="400" fill="#fff" stroke="#fff" stroke-width="0.50" stroke-linejoin="round">subjects.</text>
</g>
</g>
</svg>
</body>
</html>
